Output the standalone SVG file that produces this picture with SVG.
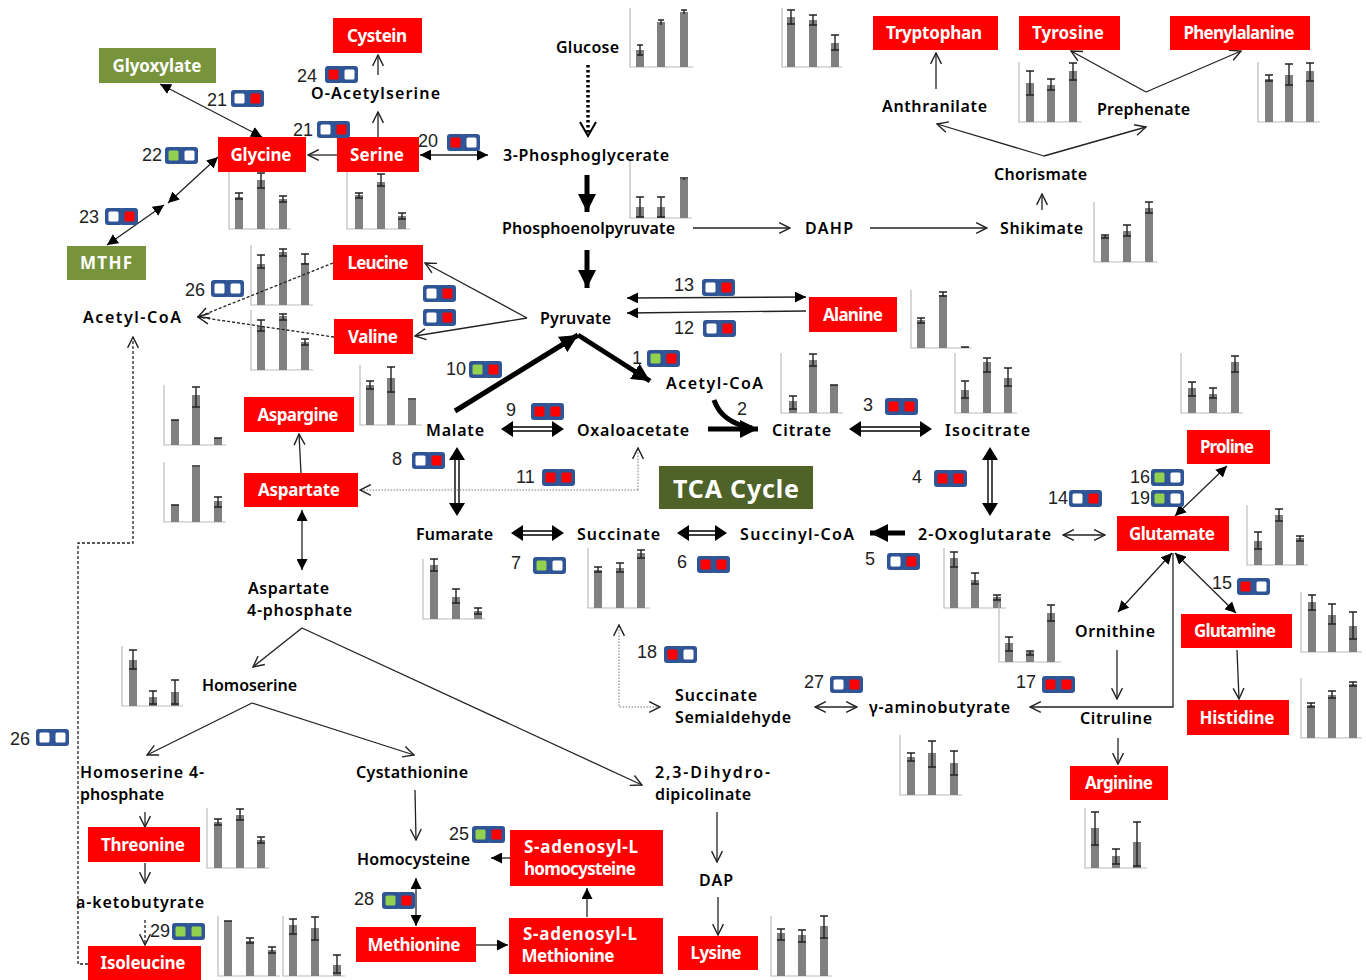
<svg xmlns="http://www.w3.org/2000/svg" width="1366" height="980" viewBox="0 0 1366 980">
<style>
text{font-family:"Noto Sans","DejaVu Sans",sans-serif}
.r{fill:#f00}.g{fill:#77933c}.t{fill:#4f6228}
.n{fill:#fff;font-size:17px;font-weight:700;text-anchor:middle}
.l{fill:#000;font-size:16px;font-weight:600;text-anchor:start}
.e{fill:#222;font-size:18px;font-family:"Liberation Sans",sans-serif}
.ax{fill:none;stroke:#bbb;stroke-width:1.2}
.b{fill:none;stroke:#808080;stroke-width:8}
.w{fill:none;stroke:#222;stroke-width:1.4}
.c{fill:none;stroke:#222;stroke-width:1.3}
.o{marker-end:url(#open)}
.ob{marker-end:url(#open);marker-start:url(#open)}
.f{marker-end:url(#fill)}
.fb{marker-end:url(#fill);marker-start:url(#fill)}
.d{stroke-dasharray:3 2}
.dot{stroke-dasharray:1.5 1.5;stroke:#777;stroke-width:1}
.th{stroke:#000;stroke-width:5;marker-end:url(#big)}
.dbl{stroke:#000;stroke-width:1.4;fill:none}
.pb{fill:#2f5597}
.pw{fill:#fff}.pr{fill:#f00}.pg{fill:#92d050}
</style>
<defs>
<marker id="open" viewBox="0 0 12 12" refX="11" refY="6" markerWidth="13" markerHeight="13" markerUnits="userSpaceOnUse" orient="auto-start-reverse"><path d="M1 1L11 6L1 11" fill="none" stroke="#222" stroke-width="1.3"/></marker>
<marker id="fill" viewBox="0 0 10 10" refX="10" refY="5" markerWidth="11" markerHeight="11" markerUnits="userSpaceOnUse" orient="auto-start-reverse"><path d="M0 0L10 5L0 10Z" fill="#000"/></marker>
<marker id="big" viewBox="0 0 10 10" refX="10" refY="5" markerWidth="18" markerHeight="18" markerUnits="userSpaceOnUse" orient="auto-start-reverse"><path d="M0 0L10 5L0 10Z" fill="#000"/></marker>
<g id="base"><rect width="18" height="17" rx="3" class="pb"/><rect x="15" width="18" height="17" rx="3" class="pb"/></g>
<g id="ww"><use href="#base"/><rect x="3.500" y="3.500" width="10" height="10" rx="1.500" class="pw"/><rect x="19.500" y="3.500" width="10" height="10" rx="1.500" class="pw"/></g>
<g id="wr"><use href="#base"/><rect x="3.500" y="3.500" width="10" height="10" rx="1.500" class="pw"/><rect x="19.500" y="3.500" width="10" height="10" rx="1.500" class="pr"/></g>
<g id="rw"><use href="#base"/><rect x="3.500" y="3.500" width="10" height="10" rx="1.500" class="pr"/><rect x="19.500" y="3.500" width="10" height="10" rx="1.500" class="pw"/></g>
<g id="rr"><use href="#base"/><rect x="3.500" y="3.500" width="10" height="10" rx="1.500" class="pr"/><rect x="19.500" y="3.500" width="10" height="10" rx="1.500" class="pr"/></g>
<g id="gw"><use href="#base"/><rect x="3.500" y="3.500" width="10" height="10" rx="1.500" class="pg"/><rect x="19.500" y="3.500" width="10" height="10" rx="1.500" class="pw"/></g>
<g id="gr"><use href="#base"/><rect x="3.500" y="3.500" width="10" height="10" rx="1.500" class="pg"/><rect x="19.500" y="3.500" width="10" height="10" rx="1.500" class="pr"/></g>
<g id="gg"><use href="#base"/><rect x="3.500" y="3.500" width="10" height="10" rx="1.500" class="pg"/><rect x="19.500" y="3.500" width="10" height="10" rx="1.500" class="pg"/></g>
</defs>
<rect width="1366" height="980" fill="#fff"/>

<g id="charts">
<g><path class="ax" d="M630 8V67H693"/><path class="b" d="M640 67V50M661 67V22M684 67V12"/><path class="w" d="M640 45V55M637 45h6M637 55h6M661 20V25M658 20h6M684 10V14M681 10h6"/></g>
<g><path class="ax" d="M782 8V67H842"/><path class="b" d="M791 67V17M813 67V20M835 67V43"/><path class="w" d="M791 10V24M787 10h8M787 24h8M813 15V25M809 15h8M809 25h8M835 35V50M831 35h8M831 50h8"/></g>
<g><path class="ax" d="M1019 62V122H1082"/><path class="b" d="M1030 122V83M1051 122V85M1073 122V71"/><path class="w" d="M1030 71V95M1026 71h8M1026 95h8M1051 79V90M1047 79h8M1047 90h8M1073 63V80M1069 63h8M1069 80h8"/></g>
<g><path class="ax" d="M1258 62V122H1320"/><path class="b" d="M1269 122V79M1289 122V75M1310 122V71"/><path class="w" d="M1269 75V81M1265 75h8M1265 81h8M1289 64V85M1285 64h8M1285 85h8M1310 63V81M1306 63h8M1306 81h8"/></g>
<g><path class="ax" d="M1094 202V262H1157"/><path class="b" d="M1105 262V236M1127 262V231M1149 262V208"/><path class="w" d="M1105 235V238M1101 235h8M1101 238h8M1127 225V236M1123 225h8M1123 236h8M1149 202V213M1145 202h8M1145 213h8"/></g>
<g><path class="ax" d="M630 160V218H692"/><path class="b" d="M640 218V207M661 218V207M684 218V179"/><path class="w" d="M640 197V217M636 197h8M636 217h8M661 197V217M657 197h8M657 217h8M684 178V180M680 178h8"/></g>
<g><path class="ax" d="M229 172V229H291"/><path class="b" d="M239 229V197M261 229V180M283 229V199"/><path class="w" d="M239 193V199M235 193h8M235 199h8M261 173V188M257 173h8M257 188h8M283 196V202M279 196h8M279 202h8"/></g>
<g><path class="ax" d="M347 172V229H410"/><path class="b" d="M359 229V195M381 229V182M402 229V216"/><path class="w" d="M359 193V198M355 193h8M355 198h8M381 174V186M377 174h8M377 186h8M402 213V219M398 213h8M398 219h8"/></g>
<g><path class="ax" d="M251 245V305H313"/><path class="b" d="M261 305V264M283 305V252M305 305V263"/><path class="w" d="M261 255V268M257 255h8M257 268h8M283 249V256M279 249h8M279 256h8M305 254V264M301 254h8M301 264h8"/></g>
<g><path class="ax" d="M251 310V370H313"/><path class="b" d="M261 370V326M283 370V316M305 370V342"/><path class="w" d="M261 320V331M257 320h8M257 331h8M283 314V320M279 314h8M279 320h8M305 339V345M301 339h8M301 345h8"/></g>
<g><path class="ax" d="M911 290V348H972"/><path class="b" d="M921 348V320M943 348V295M965 348V347"/><path class="w" d="M921 318V323M917 318h8M917 323h8M943 292V296M939 292h8M939 296h8M961 347h8"/></g>
<g><path class="ax" d="M360 365V425H422"/><path class="b" d="M370 425V385M391 425V378M412 425V400"/><path class="w" d="M370 381V389M366 381h8M366 389h8M391 367V392M387 367h8M387 392h8M408 399h8"/></g>
<g><path class="ax" d="M781 353V413H843"/><path class="b" d="M793 413V401M813 413V360M834 413V385"/><path class="w" d="M793 396V409M789 396h8M789 409h8M813 354V366M809 354h8M809 366h8M830 385h8"/></g>
<g><path class="ax" d="M955 353V413H1017"/><path class="b" d="M965 413V390M987 413V362M1008 413V378"/><path class="w" d="M965 381V398M961 381h8M961 398h8M987 358V372M983 358h8M983 372h8M1008 368V386M1004 368h8M1004 386h8"/></g>
<g><path class="ax" d="M164 385V445H226"/><path class="b" d="M175 445V420M196 445V395M218 445V438"/><path class="w" d="M171 420h8M196 387V407M192 387h8M192 407h8M214 438h8"/></g>
<g><path class="ax" d="M164 462V522H226"/><path class="b" d="M175 522V505M196 522V467M218 522V501"/><path class="w" d="M171 505h8M192 466h8M218 497V507M214 497h8M214 507h8"/></g>
<g><path class="ax" d="M1181 353V413H1243"/><path class="b" d="M1192 413V388M1213 413V394M1235 413V362"/><path class="w" d="M1192 382V396M1188 382h8M1188 396h8M1213 388V398M1209 388h8M1209 398h8M1235 356V372M1231 356h8M1231 372h8"/></g>
<g><path class="ax" d="M1247 505V565H1308"/><path class="b" d="M1258 565V541M1279 565V515M1300 565V538"/><path class="w" d="M1258 532V549M1254 532h8M1254 549h8M1279 509V521M1275 509h8M1275 521h8M1300 536V541M1296 536h8M1296 541h8"/></g>
<g><path class="ax" d="M1301 592V652H1362"/><path class="b" d="M1312 652V602M1332 652V615M1353 652V626"/><path class="w" d="M1312 595V610M1308 595h8M1308 610h8M1332 604V624M1328 604h8M1328 624h8M1353 612V639M1349 612h8M1349 639h8"/></g>
<g><path class="ax" d="M1301 678V738H1362"/><path class="b" d="M1311 738V705M1332 738V695M1353 738V684"/><path class="w" d="M1311 703V707M1307 703h8M1307 707h8M1332 691V698M1328 691h8M1328 698h8M1353 682V686M1349 682h8M1349 686h8"/></g>
<g><path class="ax" d="M944 548V608H1006"/><path class="b" d="M954 608V558M975 608V580M997 608V597"/><path class="w" d="M954 552V567M950 552h8M950 567h8M975 573V584M971 573h8M971 584h8M997 595V600M993 595h8M993 600h8"/></g>
<g><path class="ax" d="M999 603V662H1061"/><path class="b" d="M1009 662V643M1030 662V652M1051 662V613"/><path class="w" d="M1009 637V651M1005 637h8M1005 651h8M1030 651V655M1026 651h8M1026 655h8M1051 605V621M1047 605h8M1047 621h8"/></g>
<g><path class="ax" d="M423 559V619H485"/><path class="b" d="M434 619V565M456 619V597M478 619V611"/><path class="w" d="M434 559V571M430 559h8M430 571h8M456 589V603M452 589h8M452 603h8M478 608V614M474 608h8M474 614h8"/></g>
<g><path class="ax" d="M588 548V608H650"/><path class="b" d="M598 608V570M620 608V568M641 608V553"/><path class="w" d="M598 567V572M594 567h8M594 572h8M620 563V572M616 563h8M616 572h8M641 550V558M637 550h8M637 558h8"/></g>
<g><path class="ax" d="M122 646V706H183"/><path class="b" d="M133 706V660M153 706V697M175 706V692"/><path class="w" d="M133 650V669M129 650h8M129 669h8M153 691V704M149 691h8M149 704h8M175 680V704M171 680h8M171 704h8"/></g>
<g><path class="ax" d="M207 808V868H269"/><path class="b" d="M218 868V822M240 868V815M261 868V840"/><path class="w" d="M218 819V825M214 819h8M214 825h8M240 809V820M236 809h8M236 820h8M261 837V843M257 837h8M257 843h8"/></g>
<g><path class="ax" d="M218 916V976H280"/><path class="b" d="M228 976V921M250 976V941M272 976V950"/><path class="w" d="M224 921h8M250 938V943M246 938h8M246 943h8M272 947V953M268 947h8M268 953h8"/></g>
<g><path class="ax" d="M283 916V976H345"/><path class="b" d="M293 976V925M315 976V928M337 976V965"/><path class="w" d="M293 919V934M289 919h8M289 934h8M315 917V940M311 917h8M311 940h8M337 955V973M333 955h8M333 973h8"/></g>
<g><path class="ax" d="M900 735V795H962"/><path class="b" d="M911 795V757M932 795V753M954 795V763"/><path class="w" d="M911 753V761M907 753h8M907 761h8M932 741V767M928 741h8M928 767h8M954 751V775M950 751h8M950 775h8"/></g>
<g><path class="ax" d="M1085 808V868H1147"/><path class="b" d="M1095 868V828M1116 868V856M1137 868V842"/><path class="w" d="M1095 812V845M1091 812h8M1091 845h8M1116 849V864M1112 849h8M1112 864h8M1137 822V866M1133 822h8M1133 866h8"/></g>
<g><path class="ax" d="M771 916V976H832"/><path class="b" d="M781 976V933M802 976V935M824 976V926"/><path class="w" d="M781 929V940M777 929h8M777 940h8M802 930V942M798 930h8M798 942h8M824 916V938M820 916h8M820 938h8"/></g>
</g>

<g id="connectors">
<path class="c o" d="M378 75V55"/>
<path class="c o" d="M378 137V112"/>
<path class="c o" d="M337 155H308"/>
<path class="c o" d="M936 89V53"/>
<path class="c o" d="M1044 156L937 124"/>
<path class="c o" d="M1044 156L1146 127"/>
<path class="c o" d="M1042 210V194"/>
<path class="c o" d="M1146 92L1071 51"/>
<path class="c o" d="M1146 92L1241 51"/>
<path class="c o" d="M693 228H790"/>
<path class="c o" d="M870 228H987"/>
<path class="c o" d="M527 318L425 263"/>
<path class="c o" d="M527 318L415 336"/>
<path class="c d o" d="M333 263L198 317"/>
<path class="c d o" d="M334 337L198 317"/>
<path class="c fb" d="M627 298L806 297"/>
<path class="c f" d="M806 311L627 313"/>
<path d="M588 65V135" fill="none" stroke="#000" stroke-width="3.500" stroke-dasharray="2.500 2.500"/>
<path d="M580 122L588 136L596 122" fill="none" stroke="#000" stroke-width="2"/>
<path class="c th" d="M587 175V212"/>
<path class="c th" d="M587 250V288"/>
<path class="c fb" d="M420 155H488"/>
<path class="c fb" d="M160 84L262 137"/>
<path class="c fb" d="M107 245L164 205"/>
<path class="c fb" d="M168 203L218 157"/>
<path class="c th" d="M455 411L578 335"/>
<path class="c th" d="M578 335L650 381"/>
<path d="M714 400C720 418 735 425 752 428" fill="none" stroke="#000" stroke-width="5"/>
<path class="c th" d="M708 429H758"/>
<path class="dbl" d="M510 427H555M510 431H555M858 427H923M858 431H923M520 531H555M520 535H555M685 531H718M685 535H718M455 458V507M459 458V507M988 456V507M992 456V507"/>
<path d="M501 429L513 421V437ZM564 429L552 421V437ZM849 429L861 421V437ZM932 429L920 421V437ZM511 533L523 525V541ZM564 533L552 525V541ZM677 533L689 525V541ZM727 533L715 525V541ZM457 447L449 460H465ZM457 516L449 503H465ZM990 447L982 460H998ZM990 516L982 503H998Z"/>
<path class="c th" d="M905 533H870"/>
<path class="c ob" d="M1063 535H1105"/>
<path class="c fb" d="M1175 516L1227 466"/>
<path class="c fb" d="M1172 553L1118 612"/>
<path class="c fb" d="M1175 553L1236 613"/>
<path class="c o" d="M1237 650L1239 699"/>
<path class="c o" d="M1117 650V699"/>
<path class="c o" d="M1118 738V764"/>
<path class="c o" d="M1173 553V707H1030"/>
<path class="c ob" d="M815 707H857"/>
<path class="c dot ob" d="M660 707H619V625"/>
<path class="c dot o" d="M638 490H360"/>
<path class="c dot o" d="M638 490V448"/>
<path class="c o" d="M301 473L299 434"/>
<path class="c fb" d="M302 510V570"/>
<path class="c o" d="M302 628L253 667"/>
<path class="c o" d="M302 628L642 785"/>
<path class="c o" d="M252 703L147 755"/>
<path class="c o" d="M252 703L414 755"/>
<path class="c o" d="M145 812V827"/>
<path class="c o" d="M145 863V883"/>
<path class="c d o" d="M145 920V945"/>
<path class="c o" d="M415 790L416 840"/>
<path class="c fb" d="M416 878V926"/>
<path class="c f" d="M510 858H491"/>
<path class="c f" d="M476 945H508"/>
<path class="c f" d="M587 917V888"/>
<path class="c o" d="M717 812V862"/>
<path class="c o" d="M718 897V935"/>
<path class="c d o" d="M88 964H78V543H133V337"/>
</g>

<g id="labels" transform="translate(0 0.500)">
<text class="l" x="556" y="52" textLength="63">Glucose</text>
<text class="l" x="503" y="160" textLength="166">3-Phosphoglycerate</text>
<text class="l" x="502" y="233" textLength="173">Phosphoenolpyruvate</text>
<text class="l" x="805" y="233" textLength="48">DAHP</text>
<text class="l" x="1000" y="233" textLength="83">Shikimate</text>
<text class="l" x="994" y="179" textLength="93">Chorismate</text>
<text class="l" x="882" y="111" textLength="105">Anthranilate</text>
<text class="l" x="1097" y="114" textLength="93">Prephenate</text>
<text class="l" x="311" y="98" textLength="129">O-Acetylserine</text>
<text class="l" x="83" y="322" textLength="98">Acetyl-CoA</text>
<text class="l" x="540" y="323" textLength="71">Pyruvate</text>
<text class="l" x="666" y="388" textLength="97">Acetyl-CoA</text>
<text class="l" x="426" y="435" textLength="58">Malate</text>
<text class="l" x="577" y="435" textLength="112">Oxaloacetate</text>
<text class="l" x="772" y="435" textLength="59">Citrate</text>
<text class="l" x="945" y="435" textLength="85">Isocitrate</text>
<text class="l" x="416" y="539" textLength="77">Fumarate</text>
<text class="l" x="577" y="539" textLength="83">Succinate</text>
<text class="l" x="740" y="539" textLength="114">Succinyl-CoA</text>
<text class="l" x="918" y="539" textLength="133">2-Oxoglutarate</text>
<text class="l" x="1075" y="636" textLength="80">Ornithine</text>
<text class="l" x="1080" y="723" textLength="72">Citruline</text>
<text class="l" x="869" y="712" textLength="141">γ-aminobutyrate</text>
<text class="l" x="675" y="700" textLength="82">Succinate</text>
<text class="l" x="675" y="722" textLength="116">Semialdehyde</text>
<text class="l" x="248" y="593" textLength="81">Aspartate</text>
<text class="l" x="247" y="615" textLength="105">4-phosphate</text>
<text class="l" x="202" y="690" textLength="95">Homoserine</text>
<text class="l" x="80" y="777" textLength="124">Homoserine 4-</text>
<text class="l" x="80" y="799" textLength="84">phosphate</text>
<text class="l" x="356" y="777" textLength="112">Cystathionine</text>
<text class="l" x="357" y="864" textLength="113">Homocysteine</text>
<text class="l" x="76" y="907" textLength="128">a-ketobutyrate</text>
<text class="l" x="655" y="777" textLength="115">2,3-Dihydro-</text>
<text class="l" x="655" y="799" textLength="96">dipicolinate</text>
<text class="l" x="699" y="885" textLength="34">DAP</text>
</g>

<g id="n-cystein"><rect class="r" x="333" y="18" width="89" height="35"/><text class="n" x="377" y="42" textLength="60">Cystein</text></g>
<g id="n-glyoxylate"><rect class="g" x="99" y="48" width="117" height="35"/><text class="n" x="157" y="72" textLength="89">Glyoxylate</text></g>
<g id="n-glycine"><rect class="r" x="218" y="137" width="88" height="35"/><text class="n" x="261" y="161" textLength="61">Glycine</text></g>
<g id="n-serine"><rect class="r" x="337" y="137" width="82" height="35"/><text class="n" x="377" y="161" textLength="54">Serine</text></g>
<g id="n-leucine"><rect class="r" x="333" y="245" width="90" height="35"/><text class="n" x="378" y="269" textLength="61">Leucine</text></g>
<g id="n-valine"><rect class="r" x="334" y="319" width="79" height="35"/><text class="n" x="373" y="343" textLength="50">Valine</text></g>
<g id="n-tryptophan"><rect class="r" x="873" y="16" width="125" height="34"/><text class="n" x="934" y="39" textLength="96">Tryptophan</text></g>
<g id="n-tyrosine"><rect class="r" x="1019" y="16" width="101" height="34"/><text class="n" x="1068" y="39" textLength="72">Tyrosine</text></g>
<g id="n-phenylalanine"><rect class="r" x="1170" y="16" width="140" height="34"/><text class="n" x="1239" y="39" textLength="111">Phenylalanine</text></g>
<g id="n-mthf"><rect class="g" x="67" y="246" width="79" height="34"/><text class="n" x="106" y="269" textLength="52">MTHF</text></g>
<g id="n-alanine"><rect class="r" x="809" y="297" width="88" height="35"/><text class="n" x="853" y="321" textLength="60">Alanine</text></g>
<g id="n-aspargine"><rect class="r" x="244" y="397" width="110" height="35"/><text class="n" x="298" y="421" textLength="81">Aspargine</text></g>
<g id="n-aspartate"><rect class="r" x="244" y="473" width="114" height="34"/><text class="n" x="299" y="496" textLength="82">Aspartate</text></g>
<g id="n-proline"><rect class="r" x="1187" y="430" width="83" height="34"/><text class="n" x="1227" y="453" textLength="54">Proline</text></g>
<g id="n-glutamate"><rect class="r" x="1117" y="516" width="112" height="35"/><text class="n" x="1172" y="540" textLength="86">Glutamate</text></g>
<g id="n-glutamine"><rect class="r" x="1181" y="614" width="111" height="34"/><text class="n" x="1235" y="637" textLength="82">Glutamine</text></g>
<g id="n-histidine"><rect class="r" x="1187" y="700" width="102" height="35"/><text class="n" x="1237" y="724" textLength="75">Histidine</text></g>
<g id="n-arginine"><rect class="r" x="1070" y="766" width="98" height="34"/><text class="n" x="1119" y="789" textLength="68">Arginine</text></g>
<g id="n-threonine"><rect class="r" x="88" y="827" width="112" height="35"/><text class="n" x="143" y="851" textLength="84">Threonine</text></g>
<g id="n-isoleucine"><rect class="r" x="88" y="946" width="113" height="34"/><text class="n" x="143" y="969" textLength="85">Isoleucine</text></g>
<g id="n-methionine"><rect class="r" x="356" y="927" width="120" height="35"/><text class="n" x="414" y="951" textLength="93">Methionine</text></g>
<g id="n-sah"><rect class="r" x="510" y="830" width="153" height="56"/><text class="n" x="581" y="853" textLength="114">S-adenosyl-L</text><text class="n" x="580" y="875" textLength="112">homocysteine</text></g>
<g id="n-sam"><rect class="r" x="509" y="918" width="154" height="56"/><text class="n" x="580" y="940" textLength="114">S-adenosyl-L</text><text class="n" x="568" y="962" textLength="93">Methionine</text></g>
<g id="n-lysine"><rect class="r" x="678" y="936" width="80" height="34"/><text class="n" x="716" y="959" textLength="51">Lysine</text></g>
<g id="n-tca"><rect class="t" x="659" y="466" width="154" height="43"/><text class="n" x="736" y="498" textLength="126" style="font-size:25px">TCA Cycle</text></g>

<g id="enzymes">
<text class="e" x="207" y="106">21</text><use href="#wr" x="231" y="90"/>
<text class="e" x="293" y="136">21</text><use href="#wr" x="317" y="121"/>
<text class="e" x="142" y="161">22</text><use href="#gw" x="165" y="147"/>
<text class="e" x="79" y="223">23</text><use href="#wr" x="105" y="208"/>
<text class="e" x="297" y="82">24</text><use href="#rw" x="325" y="66"/>
<text class="e" x="418" y="147">20</text><use href="#rw" x="447" y="134"/>
<text class="e" x="185" y="296">26</text><use href="#ww" x="211" y="280"/>
<use href="#wr" x="423" y="285"/>
<use href="#wr" x="423" y="309"/>
<text class="e" x="674" y="291">13</text><use href="#wr" x="702" y="279"/>
<text class="e" x="674" y="334">12</text><use href="#wr" x="703" y="320"/>
<text class="e" x="632" y="364">1</text><use href="#gr" x="647" y="350"/>
<text class="e" x="446" y="375">10</text><use href="#gr" x="469" y="361"/>
<text class="e" x="506" y="416">9</text><use href="#rr" x="531" y="403"/>
<text class="e" x="737" y="415">2</text>
<text class="e" x="863" y="411">3</text><use href="#rr" x="885" y="398"/>
<text class="e" x="912" y="483">4</text><use href="#rr" x="934" y="470"/>
<text class="e" x="392" y="465">8</text><use href="#wr" x="412" y="452"/>
<text class="e" x="516" y="483">11</text><use href="#rr" x="542" y="469"/>
<text class="e" x="865" y="565">5</text><use href="#wr" x="887" y="553"/>
<text class="e" x="677" y="568">6</text><use href="#rr" x="697" y="556"/>
<text class="e" x="511" y="569">7</text><use href="#gw" x="533" y="557"/>
<text class="e" x="1048" y="504">14</text><use href="#wr" x="1069" y="490"/>
<text class="e" x="1130" y="483">16</text><use href="#gw" x="1151" y="469"/>
<text class="e" x="1130" y="504">19</text><use href="#gw" x="1151" y="490"/>
<text class="e" x="1212" y="589">15</text><use href="#rw" x="1237" y="578"/>
<text class="e" x="1016" y="688">17</text><use href="#rr" x="1042" y="676"/>
<text class="e" x="637" y="658">18</text><use href="#rw" x="664" y="646"/>
<text class="e" x="804" y="688">27</text><use href="#wr" x="830" y="676"/>
<text class="e" x="449" y="840">25</text><use href="#gr" x="472" y="826"/>
<text class="e" x="354" y="905">28</text><use href="#gr" x="382" y="892"/>
<text class="e" x="150" y="937">29</text><use href="#gg" x="172" y="923"/>
<text class="e" x="10" y="745">26</text><use href="#ww" x="36" y="729"/>
</g>
</svg>
